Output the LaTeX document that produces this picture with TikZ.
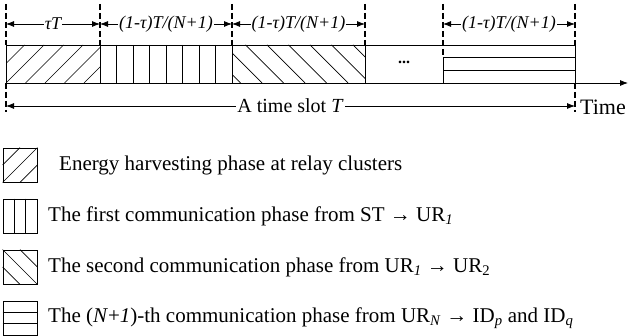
\documentclass[tikz,border=0pt]{standalone}
\usepackage{fontspec}
\setmainfont{Liberation Serif}
\usetikzlibrary{arrows.meta,calc}
\tikzset{
  slotline/.style={line width=0.8pt},
  hatch/.style={line width=0.7pt},
  bound/.style={line width=1.2pt,dash pattern=on 6pt off 3pt},
  span/.style={<->,line width=0.8pt},
  spanlbl/.style={fill=white,inner sep=1pt,font=\fontsize{18}{18}\selectfont\itshape},
  slotlbl/.style={fill=white,inner sep=1pt,font=\fontsize{20}{20}\selectfont},
  legbox/.style={draw,line width=0.8pt,minimum size=34pt,inner sep=0pt},
  legtxt/.style={anchor=west,inner sep=0pt,font=\fontsize{21}{21}\selectfont},
}
\begin{document}
\begin{tikzpicture}[x=1pt,y=-1pt,>={Latex[length=8pt,width=6pt]}]
\useasboundingbox (0,0) rectangle (632,336);
% ---------- time slot ----------
\foreach \i/\x in {0/6,1/100,2/232,3/365,4/443,5/575}{
  \coordinate (top\i) at (\x,4);
  \coordinate (arr\i) at (\x,24);
  \coordinate (up\i) at (\x,45);
  \coordinate (lo\i) at (\x,83);
}
\coordinate (m1) at (443,57);
\coordinate (m2) at (443,70);
\coordinate (bot0) at (6,112);
\coordinate (bot5) at (575,112);
\coordinate (sl0) at (6,106);
\coordinate (sl5) at (575,106);
\coordinate (tend) at (628,83);
% 能量收集阶段 /
\begin{scope}
\clip (up0) rectangle (lo1);
\foreach \k in {-2,...,5}{
  \draw[hatch] (6+\k*19.5,83) -- ++(38,-38);
}
\end{scope}
% 第一通信阶段 |
\foreach \k in {1,...,7}{
  \draw[hatch] (100+\k*16.5,45) -- (100+\k*16.5,83);
}
% 第二通信阶段 \
\begin{scope}
\clip (up2) rectangle (lo3);
\foreach \k in {-1,...,6}{
  \draw[hatch] (224+\k*21.5,45) -- ++(38,38);
}
\end{scope}
% 第 N+1 阶段 =
\draw[slotline] (m1) -- (m1-|up5);
\draw[slotline] (m2) -- (m2-|up5);
\node (dots) at (404,62) {\fontsize{16}{16}\selectfont\textbf{...}};
% 外框与时间轴
\draw[slotline] (up0) -- (up5);
\draw[slotline,->] (lo0) -- (tend);
\node (time) at (603,107) {\fontsize{22}{22}\selectfont Time};
\foreach \i in {0,1,2,3,5}{
  \draw[slotline] (up\i) -- (lo\i);
  \draw[bound] (top\i) -- (up\i);
}
\draw[slotline] (m1) -- (lo4);
\draw[bound] (top4) -- (m1);
\draw[bound] (lo0) -- (bot0);
\draw[bound] (lo5) -- (bot5);
% 各阶段时长
\draw[span] (arr0) -- node[spanlbl] (l1) {τT} (arr1);
\draw[span] (arr1) -- node[spanlbl] (l2) {(1-τ)T/(N+1)} (arr2);
\draw[span] (arr2) -- node[spanlbl] (l3) {(1-τ)T/(N+1)} (arr3);
\draw[span] (arr4) -- node[spanlbl] (l4) {(1-τ)T/(N+1)} (arr5);
\draw[span] (sl0) -- node[slotlbl] (ls) {A time slot \textit{T}} (sl5);
% ---------- legend ----------
\node[legbox] (k1) at (20,165) {};
\draw[hatch] (k1.south west) -- (k1.north east);
\draw[hatch] (k1.west) -- (k1.north);
\draw[hatch] (k1.south) -- (k1.east);
\node[legbox] (k2) at (20,216) {};
\foreach \f in {1/3,2/3}{
  \draw[hatch] ($(k2.north west)!\f!(k2.north east)$) -- ($(k2.south west)!\f!(k2.south east)$);
}
\node[legbox] (k3) at (20,267) {};
\draw[hatch] (k3.north west) -- (k3.south east);
\draw[hatch] (k3.north) -- (k3.east);
\draw[hatch] (k3.west) -- (k3.south);
\node[legbox] (k4) at (20,318) {};
\foreach \f in {1/3,2/3}{
  \draw[hatch] ($(k4.north west)!\f!(k4.south west)$) -- ($(k4.north east)!\f!(k4.south east)$);
}
\node[legtxt] (e1) at (59,165) {Energy harvesting phase at relay clusters};
\node[legtxt] (e2) at (48,216) {The first communication phase from ST → UR\textsubscript{\textit{1}}};
\node[legtxt] (e3) at (48,267) {The second communication phase from UR\textsubscript{\textit{1}} → UR\textsubscript{2}};
\node[legtxt] (e4) at (48,318) {The (\textit{N}+\textit{1})-th communication phase from UR\textsubscript{\textit{N}} → ID\textsubscript{\textit{p}} and ID\textsubscript{\textit{q}}};
\end{tikzpicture}
\end{document}
